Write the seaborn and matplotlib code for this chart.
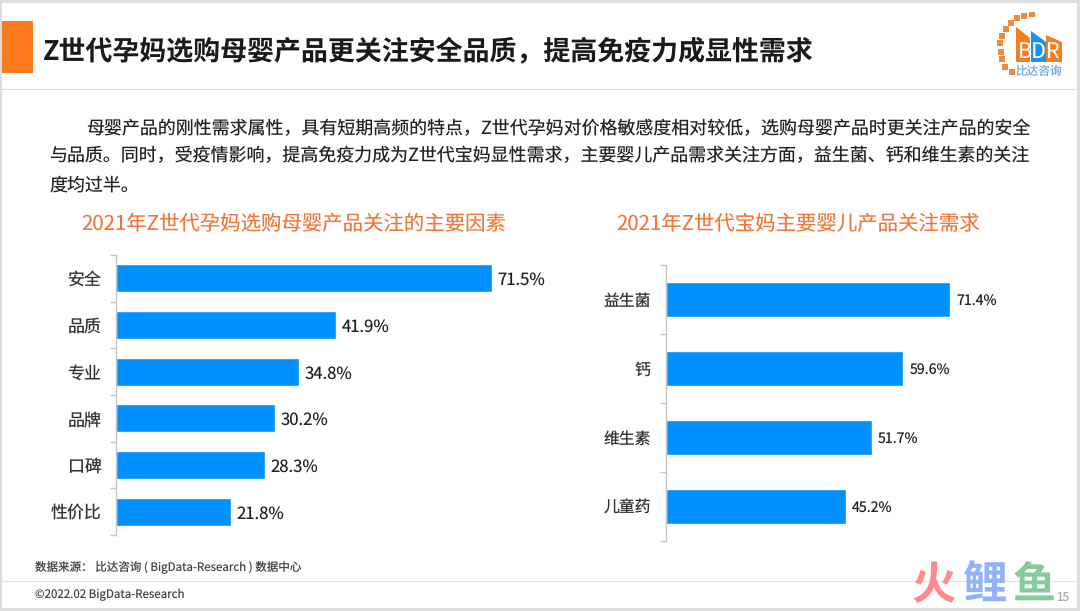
import matplotlib
matplotlib.use('Agg')
import matplotlib.pyplot as plt
from matplotlib.patches import Rectangle
from matplotlib.ticker import FixedLocator
import pandas as pd
import seaborn as sns

factors = ['安全', '品质', '专业', '品牌', '口碑', '性价比']
factor_values = [71.5, 41.9, 34.8, 30.2, 28.3, 21.8]
needs = ['益生菌', '钙', '维生素', '儿童药']
need_values = [71.4, 59.6, 51.7, 45.2]

title = 'Z世代孕妈选购母婴产品更关注安全品质，提高免疫力成显性需求'
body = ['母婴产品的刚性需求属性，具有短期高频的特点，Z世代孕妈对价格敏感度相对较低，选购母婴产品时更关注产品的安全',
        '与品质。同时，受疫情影响，提高免疫力成为Z世代宝妈显性需求，主要婴儿产品需求关注方面，益生菌、钙和维生素的关注',
        '度均过半。']

sns.set_theme(style='white')
plt.rcParams['font.family'] = ['Noto Sans CJK SC', 'DejaVu Sans']
plt.rcParams['text.hinting'] = 'no_hinting'

W, H = 1080, 611
fig = plt.figure(figsize=(W / 100, H / 100), dpi=100, facecolor='white')


def axes_px(x0, y0, x1, y1):
    return fig.add_axes([x0 / W, 1 - y1 / H, (x1 - x0) / W, (y1 - y0) / H])


def txt(x, y, s, **kw):
    kw.setdefault('va', 'center')
    fig.text(x / W, 1 - y / H, s, **kw)


def box(x0, y0, x1, y1, color):
    fig.add_artist(Rectangle((x0 / W, 1 - y1 / H), (x1 - x0) / W, (y1 - y0) / H,
                             transform=fig.transFigure, color=color, lw=0))


def bars(ax, labels, values, width, size, vsize, pad, vpad):
    df = pd.DataFrame({'name': labels, 'value': values})
    sns.barplot(data=df, x='value', y='name', ax=ax, color='#0090ff', saturation=1, width=width)
    for c in ax.containers:
        for t in ax.bar_label(c, fmt='%.1f%%', padding=vpad, fontsize=vsize, color='#222222'):
            t.xyann = (vpad, -1.5)
    ax.set_xlabel('')
    ax.set_ylabel('')
    ax.xaxis.set_visible(False)
    for s in ['top', 'right', 'bottom']:
        ax.spines[s].set_visible(False)
    ax.spines['left'].set_color('#c4c4c4')
    ax.spines['left'].set_linewidth(1)
    ax.tick_params(axis='y', which='major', length=0, labelsize=size, labelcolor='#333333', pad=pad)
    # small marks between the categories
    ax.yaxis.set_minor_locator(FixedLocator([i - 0.5 for i in range(len(labels) + 1)]))
    ax.tick_params(axis='y', which='minor', left=True, length=4, width=1, color='#c4c4c4')
    ax.patch.set_alpha(0)


# frame and header
box(0, 0, 1080, 3, '#dddddd')
box(0, 0, 2, 611, '#dddddd')
box(1077, 0, 1080, 611, '#dddddd')
box(0, 608, 1080, 611, '#dddddd')
box(2, 21, 33, 73, '#fd7a1c')
box(2, 89, 1077, 90, '#d5dfec')
box(2, 581, 1077, 582, '#cfe6ea')

txt(43, 51, title, fontsize=19.4, color='#1a1a1a', weight='bold')
txt(86, 129, body[0], fontsize=12.93, color='#222222')
txt(49, 156, body[1], fontsize=12.93, color='#222222')
txt(49, 185, body[2], fontsize=12.93, color='#222222')

txt(294, 224, '2021年Z世代孕妈选购母婴产品关注的主要因素', fontsize=14.7, color='#f0763a', ha='center')
txt(798, 224, '2021年Z世代宝妈主要婴儿产品关注需求', fontsize=14.7, color='#f0763a', ha='center')

ax1 = axes_px(116, 255, 1000, 535)
bars(ax1, factors, factor_values, 0.6, 12.2, 12, 10.5, 4)
ax1.set_xlim(0, 884 / 5.259)

ax2 = axes_px(666, 265, 1070, 541)
bars(ax2, needs, need_values, 0.5, 11.4, 10.2, 11, 4.5)
ax2.set_xlim(0, 404 / 3.98)

txt(35, 568, '数据来源： 比达咨询 ( BigData-Research ) 数据中心', fontsize=8.3, color='#444444')
txt(35, 595, '©2022.02 BigData-Research', fontsize=8.3, color='#444444')

# logo
logo = axes_px(996, 12, 1066, 80)
logo.set_xlim(996, 1066)
logo.set_ylim(80, 12)
logo.axis('off')
dots_x = [1012, 1005, 1002, 1001, 1000, 1002, 1006, 1011, 1017, 1024, 1032]
dots_y = [72, 67, 59, 52, 43, 36, 29, 23, 18, 16, 14]
logo.scatter(dots_x, dots_y, s=14, color='#f08a3c', marker='s', lw=0)
logo.fill([1016, 1030, 1030, 1016], [27, 38, 62, 62], color='#f57e20', lw=0)
logo.fill([1031, 1046, 1046, 1031], [31, 42, 62, 62], color='#1b8ff0', lw=0)
logo.fill([1046, 1062, 1062, 1046], [35, 42, 62, 62], color='#f57e20', lw=0)
logo.text(1039, 52, 'BDR', color='white', fontsize=15.5, ha='center', va='center', weight='medium')
logo.text(1039, 72, '比达咨询', color='#6fa8dc', fontsize=8.4, ha='center', va='center')

# watermark
txt(934, 586, '火', fontsize=32, color='#ff8a8a', ha='center', weight='bold')
txt(984, 586, '鲤', fontsize=32, color='#8fb2f8', ha='center', weight='bold')
txt(1034, 586, '鱼', fontsize=31, color='#86c99a', ha='center', weight='bold')
txt(1056, 598, '15', fontsize=8.5, color='#aaaaaa')

fig.savefig('out.png', dpi=100)
